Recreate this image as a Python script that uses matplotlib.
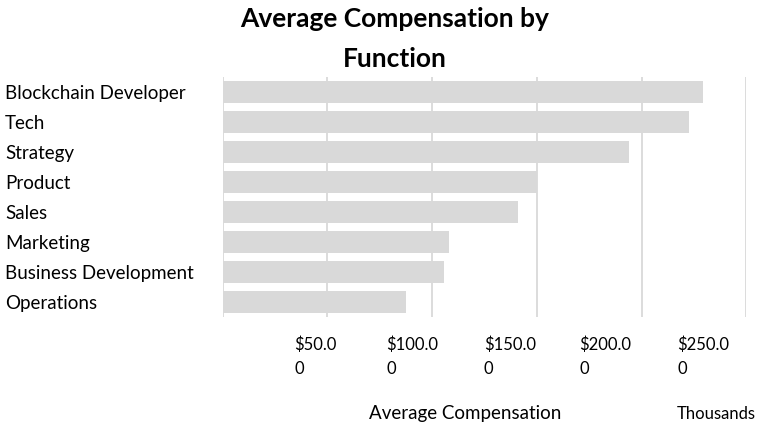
import matplotlib
matplotlib.use("Agg")
import matplotlib.pyplot as plt
from matplotlib.transforms import ScaledTranslation, blended_transform_factory

plt.rcParams['font.family'] = ['Lato', 'DejaVu Sans']

functions = ["Blockchain Developer", "Tech", "Strategy", "Product", "Sales",
             "Marketing", "Business Development", "Operations"]
avg_comp = [229500, 222600, 194200, 150000, 141200, 108100, 105700, 87300]

tick_values = [50000, 100000, 150000, 200000, 250000]
tick_labels = ["$50.0\n0", "$100.0\n0", "$150.0\n0", "$200.0\n0", "$250.0\n0"]
# pixel shift of each wrapped label relative to its gridline
label_shift = [-33, -46, -53, -62, -69]

bar_color = "#d9d9d9"
grid_color = "#d9d9d9"

fig = plt.figure(figsize=(7.6, 4.25), dpi=100)
ax = fig.add_axes([0.293, 0.254, 0.689, 0.565])

y = list(range(len(functions)))
ax.barh(y, avg_comp, height=0.74, color=bar_color, zorder=2)
ax.set_ylim(len(functions) - 0.5, -0.5)
ax.set_xlim(0, 250000)

for s in ax.spines.values():
    s.set_visible(False)
ax.set_axisbelow(True)
ax.set_xticks([0] + tick_values)
ax.grid(axis="x", color=grid_color, linewidth=1.3)
ax.tick_params(axis="both", length=0)

ax.set_xticklabels([""] + tick_labels, fontsize=12, ha="left", va="top",
                   linespacing=1.65, color="#000000")
ax.tick_params(axis="x", pad=14)
for lbl, dx in zip(ax.get_xticklabels()[1:], label_shift):
    lbl.set_transform(lbl.get_transform() + ScaledTranslation(dx / 100, 0, fig.dpi_scale_trans))

# category names sit flush left in the figure, not against the axis
ax.set_yticks(y)
ax.set_yticklabels([])
name_tr = blended_transform_factory(fig.transFigure, ax.transData) + \
    ScaledTranslation(0, -1.5 / 100, fig.dpi_scale_trans)
for yi, name in zip(y, functions):
    ax.text(5 / 760, yi, name, transform=name_tr,
            ha="left", va="center", fontsize=13.5, color="#000000")

fig.text(0.519, 1 - 19 / 425, "Average Compensation by", ha="center", va="center",
         fontsize=19, fontweight="bold")
fig.text(0.519, 1 - 59 / 425, "Function", ha="center", va="center",
         fontsize=19, fontweight="bold")

fig.text(465 / 760, 1 - 413 / 425, "Average Compensation", ha="center", va="center", fontsize=13.5)
fig.text(677 / 760, 1 - 414 / 425, "Thousands", ha="left", va="center", fontsize=12)

fig.savefig("out.png", dpi=100, facecolor="white")
